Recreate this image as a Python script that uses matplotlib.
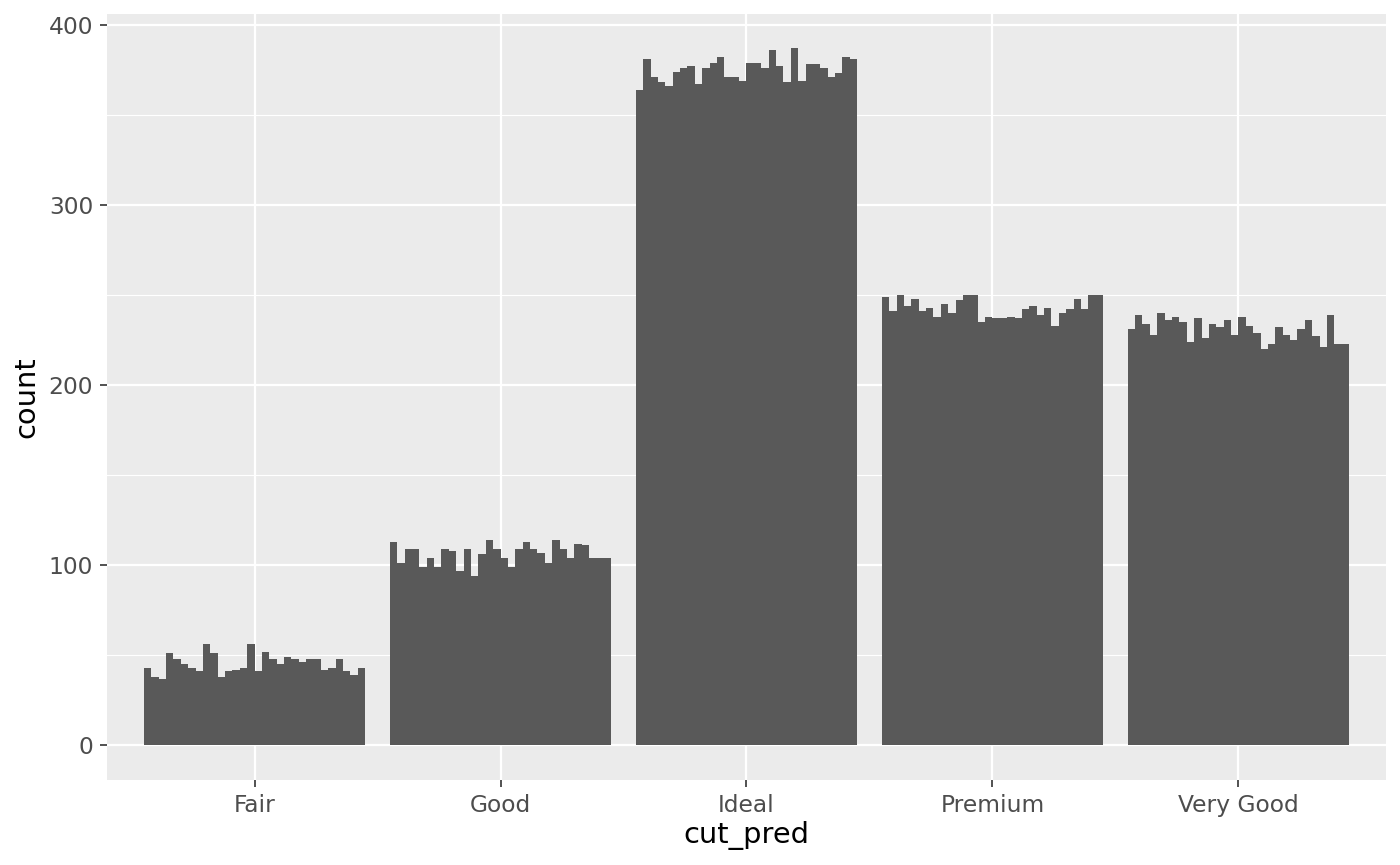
import numpy as np
import matplotlib
matplotlib.use('Agg')
import matplotlib.pyplot as plt

# categories of cut_pred and the 30 sub-bar counts inside each group
categories = ['Fair', 'Good', 'Ideal', 'Premium', 'Very Good']

fair = [43, 38, 37, 51, 48, 45, 43, 41, 56, 51, 38, 41, 42, 43, 56,
        41, 52, 48, 45, 49, 48, 46, 48, 48, 42, 43, 48, 41, 39, 43]
good = [113, 101, 109, 109, 99, 104, 99, 109, 108, 97, 109, 94, 106, 114, 109,
        104, 99, 109, 113, 109, 107, 101, 114, 109, 104, 112, 111, 104, 104, 104]
ideal = [364, 381, 371, 368, 366, 374, 376, 377, 367, 376, 379, 382, 371, 371, 369,
         379, 379, 376, 386, 377, 368, 387, 369, 378, 378, 376, 371, 373, 382, 381]
premium = [249, 241, 250, 244, 248, 241, 243, 238, 245, 240, 247, 250, 250, 235, 238,
           237, 237, 238, 237, 242, 244, 239, 243, 233, 240, 242, 248, 242, 250, 250]
very_good = [231, 239, 234, 228, 240, 236, 238, 235, 224, 237, 226, 234, 232, 236, 228,
             238, 233, 229, 220, 223, 232, 228, 225, 231, 236, 227, 221, 239, 223, 223]

groups = [fair, good, ideal, premium, very_good]

fig = plt.figure(figsize=(14, 8.65), dpi=100)
ax = fig.add_axes([0.0764, 0.0983, 0.9136, 0.8855])
ax.set_facecolor('#EBEBEB')

n_sub = len(fair)
sub_w = 0.9 / n_sub
for i, vals in enumerate(groups):
    pos = i + 1 - 0.45 + sub_w / 2 + sub_w * np.arange(n_sub)
    ax.bar(pos, vals, width=sub_w, color='#595959', linewidth=0, zorder=3)

ax.set_xlim(0.4, 5.6)
ax.set_ylim(-19.3, 406.0)

ax.set_xticks(range(1, len(categories) + 1))
ax.set_xticklabels(categories)
ax.set_yticks([0, 100, 200, 300, 400])
ax.set_yticks([50, 150, 250, 350], minor=True)

ax.grid(which='major', color='white', linewidth=1.6, zorder=1)
ax.grid(which='minor', axis='y', color='white', linewidth=0.8, zorder=1)
ax.tick_params(axis='x', which='minor', bottom=False)
ax.tick_params(which='major', length=5, width=1.2, color='#333333',
               labelsize=16.8, labelcolor='#4D4D4D', pad=5)
ax.tick_params(which='minor', length=0)

for s in ax.spines.values():
    s.set_visible(False)

ax.set_xlabel('cut_pred', fontsize=20.8, labelpad=3)
ax.set_ylabel('count', fontsize=20.8, labelpad=6)

fig.savefig('out.png', dpi=100)
